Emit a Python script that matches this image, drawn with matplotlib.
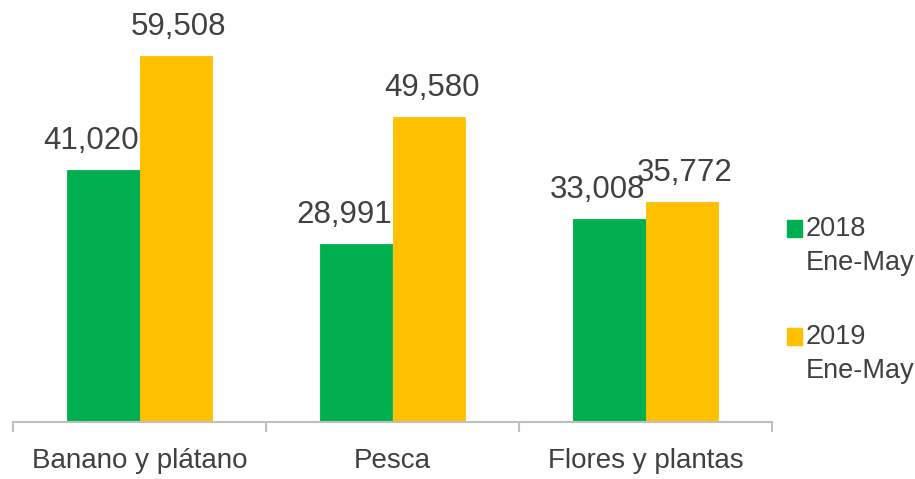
import numpy as np
import matplotlib.pyplot as plt
from matplotlib.patches import Rectangle

categorias = ['Banano y plátano', 'Pesca', 'Flores y plantas']
valores_2018 = [41020, 28991, 33008]
valores_2019 = [59508, 49580, 35772]
series = ['2018\nEne-May', '2019\nEne-May']
colores = ['#00B050', '#FFC000']
gris_texto = '#404040'

plt.rcParams['font.family'] = ['Liberation Sans', 'DejaVu Sans']

W, H = 915, 479
fig = plt.figure(figsize=(W / 100, H / 100), dpi=100)
ax = fig.add_axes([13 / W, (H - 422) / H, 759 / W, 369 / H])

x = np.arange(len(categorias))
ancho = 0.285
barras1 = ax.bar(x - ancho / 2, valores_2018, ancho, color=colores[0],
                 edgecolor=colores[0], linewidth=0.6)
barras2 = ax.bar(x + ancho / 2, valores_2019, ancho, color=colores[1],
                 edgecolor=colores[1], linewidth=0.6)

# etiquetas de valor encima de cada barra
for barras, vals, dx in [(barras1, valores_2018, -8.6), (barras2, valores_2019, 2.2)]:
    for b, v in zip(barras, vals):
        ax.annotate(f'{v:,}', (b.get_x() + b.get_width() / 2, v),
                    xytext=(dx, 15), textcoords='offset points',
                    ha='center', va='baseline', fontsize=22.5, color=gris_texto)

ax.set_xlim(-0.5, 2.5)
ax.set_ylim(0, 60000)
for lado in ['top', 'right', 'left']:
    ax.spines[lado].set_visible(False)
ax.spines['bottom'].set_color('#BFBFBF')
ax.spines['bottom'].set_linewidth(1.5)
ax.spines['bottom'].set_zorder(3)
ax.set_yticks([])

ax.set_xticks(x)
ax.set_xticklabels(categorias, fontsize=20, color=gris_texto)
ax.tick_params(axis='x', which='major', length=0, pad=19)
ax.set_xticks(np.arange(-0.5, 3, 1), minor=True)
ax.tick_params(axis='x', which='minor', length=7, width=1.5, color='#BFBFBF')

# leyenda dibujada a mano a la derecha
for i, (nombre, c) in enumerate(zip(series, colores)):
    y_sup = 220 + i * 108
    fig.patches.append(Rectangle((787 / W, 1 - (y_sup + 17) / H), 15 / W, 17 / H,
                                 transform=fig.transFigure, color=c))
    fig.text(806 / W, 1 - (y_sup - 4) / H, nombre, ha='left', va='top',
             fontsize=19.5, color=gris_texto, linespacing=1.4)

fig.savefig('out.png', dpi=100)
